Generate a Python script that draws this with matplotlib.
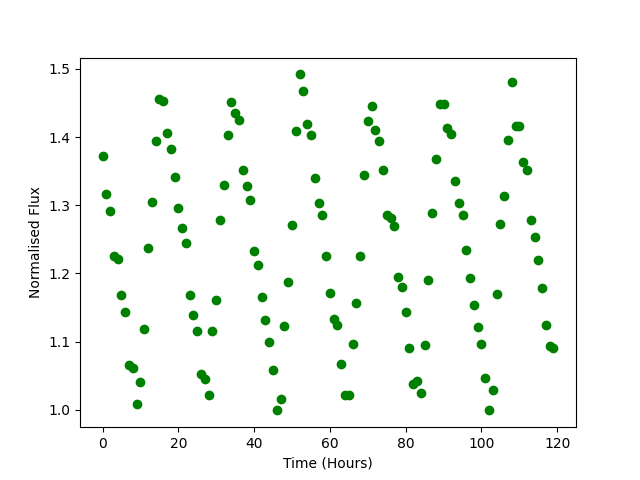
import numpy as np
import matplotlib
matplotlib.use('Agg')
import matplotlib.pyplot as plt

# time in hours, one sample per hour
time = np.arange(120)

flux = [1.372, 1.316, 1.291, 1.225, 1.221, 1.169, 1.143, 1.066, 1.061, 1.009,
        1.040, 1.119, 1.238, 1.305, 1.394, 1.456, 1.453, 1.406, 1.382, 1.341,
        1.296, 1.266, 1.245, 1.168, 1.139, 1.115, 1.053, 1.045, 1.022, 1.115,
        1.161, 1.279, 1.329, 1.403, 1.451, 1.436, 1.425, 1.352, 1.328, 1.307,
        1.233, 1.212, 1.166, 1.132, 1.100, 1.059, 0.999, 1.015, 1.123, 1.188,
        1.271, 1.409, 1.492, 1.468, 1.419, 1.403, 1.340, 1.304, 1.286, 1.226,
        1.171, 1.133, 1.125, 1.067, 1.022, 1.021, 1.096, 1.156, 1.225, 1.345,
        1.423, 1.445, 1.410, 1.394, 1.351, 1.285, 1.282, 1.270, 1.194, 1.180,
        1.144, 1.091, 1.038, 1.042, 1.025, 1.095, 1.191, 1.289, 1.368, 1.448,
        1.448, 1.413, 1.405, 1.336, 1.303, 1.286, 1.234, 1.193, 1.154, 1.122,
        1.097, 1.047, 0.999, 1.029, 1.170, 1.272, 1.314, 1.396, 1.481, 1.417,
        1.417, 1.363, 1.351, 1.279, 1.254, 1.219, 1.178, 1.124, 1.093, 1.090]

fig = plt.figure(figsize=(6.4, 4.8), dpi=100)
plt.plot(time, flux, 'go')
plt.xlabel('Time (Hours)')
plt.ylabel('Normalised Flux')
plt.savefig('out.png')
